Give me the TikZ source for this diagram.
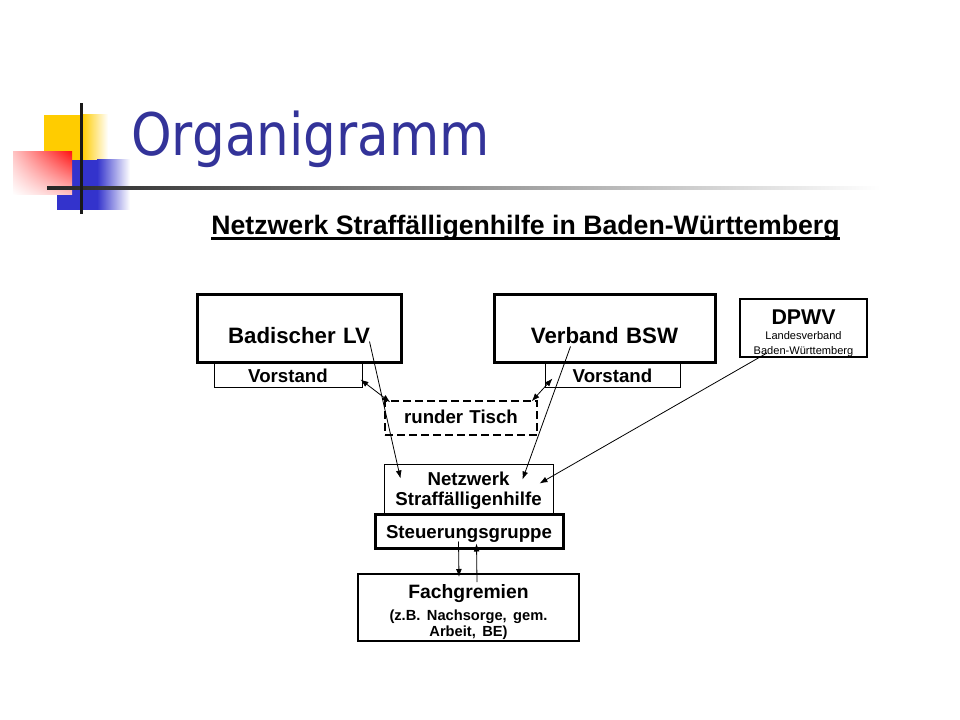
\documentclass[tikz,border=0pt]{standalone}
\usepackage{fontspec}
\setmainfont{Liberation Sans}
\newfontfamily\titlefont[FakeStretch=0.88]{DejaVu Sans}
\usetikzlibrary{arrows.meta,shadings}
\definecolor{ttlblue}{RGB}{51,51,153}
\definecolor{ylw}{RGB}{255,204,0}
\definecolor{blu}{RGB}{51,51,204}
\definecolor{rd}{RGB}{255,20,20}
\tikzset{
  orgbox/.style={draw, inner sep=0pt, align=center, anchor=base, font=\bfseries},
  thinbox/.style={orgbox, line width=0.75pt},
  thickbox/.style={orgbox, line width=2.25pt},
  midbox/.style={orgbox, line width=1.5pt},
  tischbox/.style={orgbox, line width=1.1pt, dash pattern=on 6pt off 3pt},
  conn/.style={line width=0.6pt, -{Latex[length=6pt,width=4.4pt]}},
  bothconn/.style={line width=0.6pt, {Latex[length=6pt,width=4.4pt]}-{Latex[length=6pt,width=4.4pt]}}
}
\begin{document}
\begin{tikzpicture}[x=0.75pt,y=-0.75pt]
\useasboundingbox (0,0) rectangle (960,720);
\fill [ylw] (44,115) rectangle (82,160);
\shade [left color=ylw, right color=white] (82,115) rectangle (108,160);
\fill [blu] (57,160) rectangle (97,210);
\shade [left color=blu, right color=white] (97,160) rectangle (130,210);
\shade [upper right=rd, upper left=rd!25, lower right=rd!25, lower left=white] (13,152) rectangle (72,195);
\shade [left color=black!85, right color=white] (47,186.5) rectangle (880,189.5);
\fill [black!90] (80,103) rectangle (83,214);
\node [anchor=base west, inner sep=0pt, text=ttlblue, font=\titlefont\fontsize{44}{52}\selectfont] (title) at (131,156) {Organigramm};
\node [anchor=base, inner sep=0pt, text depth=2.5pt, font=\bfseries\fontsize{20}{24}\selectfont] (sub) at (525.5,235) {Netzwerk Straffälligenhilfe in Baden-Württemberg};
\draw [line width=1.9pt] (sub.south west) -- (sub.south east);
\node [thinbox, text width=111pt, text height=15pt, text depth=3.75pt, font=\bfseries\fontsize{14}{17}\selectfont] (vl) at (288,382) {Vorstand};
\node [thinbox, text width=101.25pt, text height=15pt, text depth=3.75pt, font=\bfseries\fontsize{14}{17}\selectfont] (vr) at (612.5,382) {Vorstand};
\node [thickbox, text width=153pt, text height=36pt, text depth=14.25pt, font=\bfseries\fontsize{16.7}{20}\selectfont] (blv) at (299,343) {Badischer LV};
\node [thickbox, text width=165.75pt, text height=36pt, text depth=14.25pt, font=\bfseries\fontsize{16.7}{20}\selectfont] (bsw) at (604.5,343) {Verband BSW};
\node [midbox, text width=95.25pt, text height=19.5pt, text depth=24pt, font=\bfseries\fontsize{16}{19}\selectfont] (dpwv) at (803.5,325)
  {DPWV\par\mdseries\fontsize{8.3}{11.25}\selectfont Landesverband\par Baden-Württemberg\par};
\node [tischbox, text width=114pt, text height=16.5pt, text depth=9pt, font=\bfseries\fontsize{14}{17}\selectfont] (rt) at (461,423) {runder Tisch};
\node [thinbox, text width=126.75pt, text height=15.75pt, text depth=21.75pt, font=\bfseries\fontsize{14}{15}\selectfont] (nw) at (468.5,485) {Netzwerk\\Straffälligenhilfe};
\node [thickbox, text width=141pt, text height=18pt, text depth=7.5pt, font=\bfseries\fontsize{14}{17}\selectfont] (sg) at (469,538) {Steuerungsgruppe};
\node [midbox, text width=165.75pt, text height=18pt, text depth=32.25pt, font=\bfseries\fontsize{14.5}{17}\selectfont] (fg) at (468.5,598)
  {Fachgremien\par\vspace{4.5pt}\fontsize{11}{12}\selectfont(z.B. Nachsorge, gem.\par Arbeit, BE)\par};
\draw [conn] ([xshift=-24.75pt,yshift=16.5pt]blv.south east) -- ([xshift=12.75pt,yshift=-11.25pt]nw.north west);
\draw [conn] ([xshift=58.5pt,yshift=12.75pt]bsw.south west) -- ([xshift=-23.25pt,yshift=-12pt]nw.north east);
\draw [conn] ([xshift=21pt,yshift=3.75pt]dpwv.south west) -- ([xshift=-10.5pt,yshift=-15pt]nw.north east);
\draw [bothconn] ([xshift=-1.5pt,yshift=6pt]vl.south east) -- ([xshift=4.5pt,yshift=-1.5pt]rt.north west);
\draw [bothconn] ([xshift=6pt,yshift=6.75pt]vr.south west) -- ([xshift=-4.5pt,yshift=-0.75pt]rt.north east);
\draw [conn] ([xshift=63.75pt,yshift=6pt]sg.south west) -- ([xshift=76.5pt,yshift=-3pt]fg.north west);
\draw [conn] ([xshift=90pt,yshift=-6.75pt]fg.north west) -- ([xshift=77.25pt,yshift=4.5pt]sg.south west);
\end{tikzpicture}
\end{document}
